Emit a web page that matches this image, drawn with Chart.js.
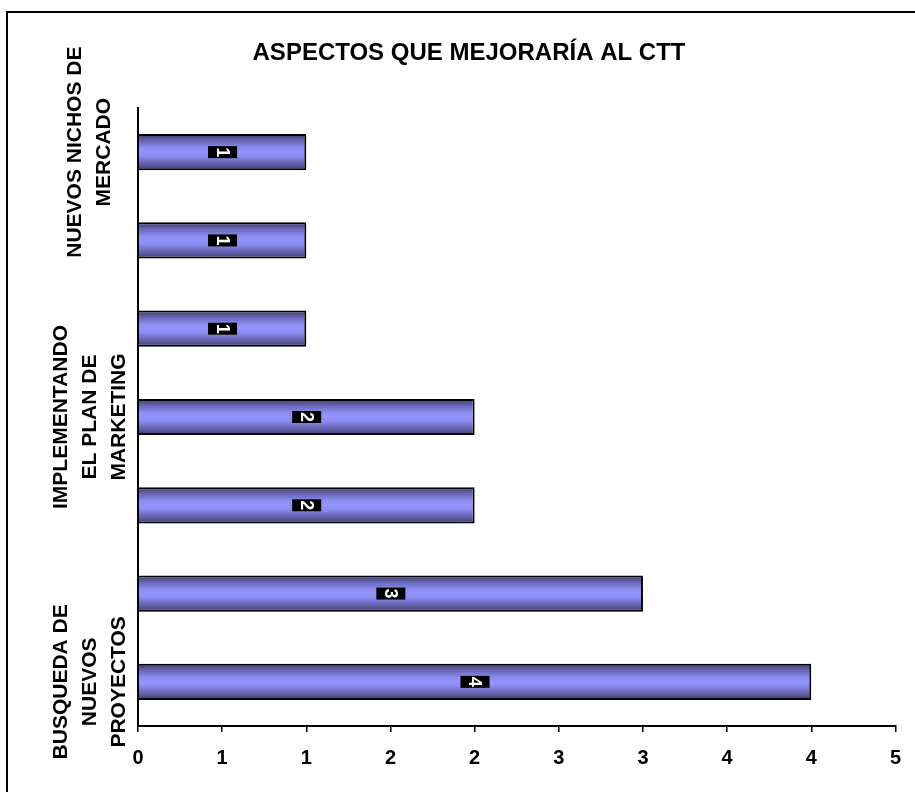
<!DOCTYPE html>
<html>
<head>
<meta charset="utf-8">
<script src="https://cdn.jsdelivr.net/npm/chart.js@4.4.1/dist/chart.umd.min.js"></script>
<style>
  html, body { margin: 0; padding: 0; background: #fff; }
  #wrap { width: 915px; height: 792px; }
</style>
</head>
<body>
<div id="wrap"><canvas id="chart" width="915" height="792"></canvas></div>
<script>
const chartTitle = 'ASPECTOS QUE MEJORARÍA AL CTT';
// only every third category name is printed in the original, the rest are unknown
const categories = [
  ['NUEVOS NICHOS DE', 'MERCADO'],
  '',
  '',
  ['IMPLEMENTANDO', 'EL PLAN DE', 'MARKETING'],
  '',
  '',
  ['BUSQUEDA DE', 'NUEVOS', 'PROYECTOS'],
];
const values = [1, 1, 1, 2, 2, 3, 4];
// axis runs 0..4.5 in steps of 0.5, printed rounded like the source sheet did
const xTickLabels = ['0', '1', '1', '2', '2', '3', '3', '4', '4', '5'];

const FONT = '"Liberation Sans", Arial, sans-serif';

// vertical shading inside each bar: dark edges, light middle
function barGradient(context) {
  const chart = context.chart;
  const yScale = chart.scales.y;
  if (!chart.chartArea || !yScale || context.dataIndex === undefined) return '#9090ff';
  const cy = yScale.getPixelForValue(context.dataIndex);
  const step = Math.abs(yScale.getPixelForValue(1) - yScale.getPixelForValue(0));
  const half = step * 0.41 / 2;
  const g = chart.ctx.createLinearGradient(0, cy - half, 0, cy + half);
  g.addColorStop(0, '#3a3a70');
  g.addColorStop(0.18, '#6666b2');
  g.addColorStop(0.38, '#8c8cf2');
  g.addColorStop(0.5, '#9494ff');
  g.addColorStop(0.62, '#8a8aef');
  g.addColorStop(0.82, '#6262ac');
  g.addColorStop(1, '#3a3a70');
  return g;
}

// white background, outer frame and the title
const frameAndTitle = {
  id: 'frameAndTitle',
  beforeDraw(chart) {
    const ctx = chart.ctx;
    ctx.save();
    ctx.fillStyle = '#fff';
    ctx.fillRect(0, 0, chart.width, chart.height);
    ctx.strokeStyle = '#000';
    ctx.lineWidth = 2;
    ctx.strokeRect(7, 12, 1000, 1000);
    ctx.fillStyle = '#000';
    ctx.font = 'bold 24px ' + FONT;
    ctx.textAlign = 'center';
    ctx.textBaseline = 'alphabetic';
    ctx.fillText(chartTitle, 469, 60);
    ctx.restore();
  }
};

// rotated multi-line category names left of the axis
const categoryLabels = {
  id: 'categoryLabels',
  afterDraw(chart) {
    const ctx = chart.ctx;
    const yScale = chart.scales.y;
    const lineHeight = 29;
    ctx.save();
    ctx.fillStyle = '#000';
    ctx.font = 'bold 21px ' + FONT;
    ctx.textAlign = 'center';
    ctx.textBaseline = 'middle';
    categories.forEach((lines, i) => {
      if (!Array.isArray(lines)) return;
      const y = yScale.getPixelForValue(i);
      ctx.save();
      ctx.translate(90, y);
      ctx.rotate(-Math.PI / 2);
      lines.forEach((line, j) => {
        ctx.fillText(line, 0, (j - (lines.length - 1) / 2) * lineHeight);
      });
      ctx.restore();
    });
    ctx.restore();
  }
};

// black value boxes with the number turned sideways
const valueLabels = {
  id: 'valueLabels',
  afterDatasetsDraw(chart) {
    const ctx = chart.ctx;
    const meta = chart.getDatasetMeta(0);
    ctx.save();
    meta.data.forEach((bar, i) => {
      const cx = (bar.x + bar.base) / 2;
      const cy = bar.y;
      ctx.fillStyle = '#000';
      ctx.fillRect(cx - 14.5, cy - 6, 29, 12);
      ctx.save();
      ctx.translate(cx, cy);
      ctx.rotate(Math.PI / 2);
      ctx.fillStyle = '#fff';
      ctx.font = 'bold 18px ' + FONT;
      ctx.textAlign = 'center';
      ctx.textBaseline = 'middle';
      ctx.fillText(String(values[i]), 0, 1);
      ctx.restore();
    });
    ctx.restore();
  }
};

new Chart(document.getElementById('chart'), {
  type: 'bar',
  data: {
    labels: categories,
    datasets: [{
      data: values,
      backgroundColor: barGradient,
      borderColor: '#000',
      borderWidth: 2,
      borderSkipped: 'start',
      barPercentage: 0.41,
      categoryPercentage: 1
    }]
  },
  options: {
    indexAxis: 'y',
    responsive: false,
    animation: false,
    layout: { padding: { left: 130, top: 108, right: 16, bottom: 8 } },
    plugins: {
      legend: { display: false },
      tooltip: { enabled: false },
      title: { display: false }
    },
    scales: {
      x: {
        min: 0,
        max: 4.5,
        ticks: {
          stepSize: 0.5,
          autoSkip: false,
          maxRotation: 0,
          padding: 14,
          color: '#000',
          font: { family: FONT, size: 20, weight: 'bold' },
          callback: (v, i) => xTickLabels[i]
        },
        grid: { drawOnChartArea: false, drawTicks: true, tickLength: 6, color: '#000', lineWidth: 1.5 },
        border: { color: '#000', width: 2 }
      },
      y: {
        ticks: { display: false },
        grid: { display: false },
        border: { color: '#000', width: 2 }
      }
    }
  },
  plugins: [frameAndTitle, categoryLabels, valueLabels]
});
</script>
</body>
</html>
